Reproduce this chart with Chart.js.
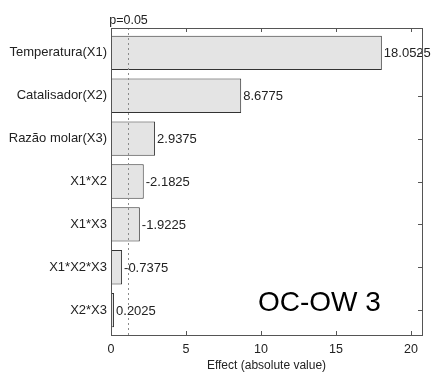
<!DOCTYPE html>
<html>
<head>
<meta charset="utf-8">
<script src="https://cdn.jsdelivr.net/npm/chart.js@4/dist/chart.umd.min.js"></script>
<style>
  html, body { margin: 0; padding: 0; background: #fff; }
  #wrap { width: 432px; height: 373px; }
</style>
</head>
<body>
<div id="wrap"><canvas id="chart" width="432" height="373"></canvas></div>
<script>
// Pareto chart of standardized effects

const categories = ['Temperatura(X1)', 'Catalisador(X2)', 'Razão molar(X3)', 'X1*X2', 'X1*X3', 'X1*X2*X3', 'X2*X3'];
const effects = [18.0525, 8.6775, 2.9375, -2.1825, -1.9225, -0.7375, 0.2025];
const xTicks = [0, 5, 10, 15, 20];
const pLimit = 1.12;
const chartLabel = 'OC-OW 3';

const FONT = '"Liberation Sans", Arial, sans-serif';

// Draws box ticks, p-value line, value labels and the label in the corner
const decorations = {
    id: 'decorations',
    afterDatasetsDraw(chart) {
        const ctx = chart.ctx;
        const area = chart.chartArea;
        const xs = chart.scales.x;
        const ys = chart.scales.y;
        ctx.save();

        // p=0.05 dotted line
        const px = Math.round(xs.getPixelForValue(pLimit)) + 0.5;
        ctx.strokeStyle = '#8a8a8a';
        ctx.lineWidth = 1;
        ctx.setLineDash([2, 3]);
        ctx.beginPath();
        ctx.moveTo(px, area.top);
        ctx.lineTo(px, area.bottom);
        ctx.stroke();
        ctx.setLineDash([]);

        ctx.font = '12.5px ' + FONT;
        ctx.fillStyle = '#222';
        ctx.textAlign = 'center';
        ctx.textBaseline = 'bottom';
        ctx.fillText('p=0.05', px, area.top - 1);

        // value labels
        ctx.font = '13px ' + FONT;
        ctx.textAlign = 'left';
        ctx.textBaseline = 'middle';
        const meta = chart.getDatasetMeta(0);
        meta.data.forEach((bar, i) => {
            ctx.fillText(effects[i].toFixed(4), bar.x + 2, bar.y + 1);
        });

        // box and inside ticks
        ctx.strokeStyle = '#555';
        ctx.lineWidth = 1;
        ctx.strokeRect(Math.round(area.left) + 0.5, Math.round(area.top) + 0.5,
            Math.round(area.right - area.left), Math.round(area.bottom - area.top));
        ctx.beginPath();
        xTicks.forEach(v => {
            const x = Math.round(xs.getPixelForValue(v)) + 0.5;
            ctx.moveTo(x, area.top); ctx.lineTo(x, area.top + 4);
            ctx.moveTo(x, area.bottom); ctx.lineTo(x, area.bottom - 4);
        });
        categories.forEach((c, i) => {
            const y = Math.round(ys.getPixelForValue(i)) + 0.5;
            ctx.moveTo(area.right, y); ctx.lineTo(area.right - 4, y);
        });
        ctx.stroke();

        // chart label
        ctx.font = '28px ' + FONT;
        ctx.fillStyle = '#000';
        ctx.textAlign = 'left';
        ctx.textBaseline = 'middle';
        ctx.fillText(chartLabel, 258, 303);

        ctx.restore();
    }
};

new Chart(document.getElementById('chart'), {
    type: 'bar',
    data: {
        datasets: [{
            data: effects.map((v, i) => ({ x: Math.abs(v), y: i })),
            backgroundColor: '#e4e4e4',
            borderColor: '#333',
            borderWidth: 1,
            borderSkipped: false,
            barPercentage: 0.8,
            categoryPercentage: 1
        }]
    },
    options: {
        indexAxis: 'y',
        responsive: false,
        animation: false,
        layout: { padding: { top: 28, right: 10, left: 0, bottom: 0 } },
        plugins: { legend: { display: false }, tooltip: { enabled: false } },
        scales: {
            x: {
                type: 'linear',
                min: 0,
                max: 20.73,
                afterBuildTicks(scale) { scale.ticks = xTicks.map(v => ({ value: v })); },
                afterFit(scale) { scale.height = 38; },
                grid: { display: false, drawTicks: false },
                border: { display: false },
                ticks: { font: { family: FONT, size: 12.5 }, color: '#222', padding: 7 },
                title: {
                    display: true,
                    text: 'Effect (absolute value)',
                    font: { family: FONT, size: 12 },
                    color: '#222',
                    padding: { top: 2, bottom: 0 }
                }
            },
            y: {
                type: 'linear',
                reverse: true,
                offset: false,
                min: -0.58,
                max: 6.58,
                afterBuildTicks(scale) { scale.ticks = categories.map((c, i) => ({ value: i })); },
                afterFit(scale) { scale.width = 111; },
                grid: { display: false, drawTicks: false, offset: false },
                border: { display: false },
                ticks: {
                    font: { family: FONT, size: 13 },
                    color: '#222',
                    padding: 4,
                    callback: v => categories[v]
                }
            }
        }
    },
    plugins: [decorations]
});
</script>
</body>
</html>
